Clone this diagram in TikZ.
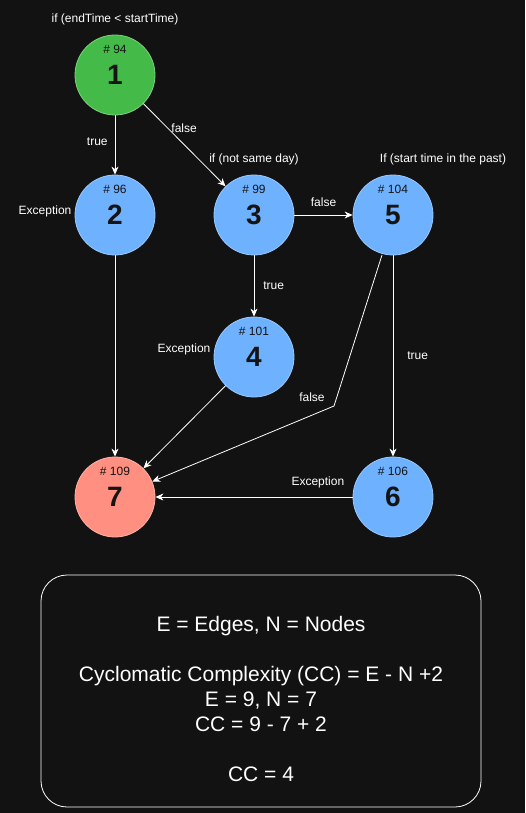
\documentclass[tikz,border=0pt]{standalone}
\usepackage{fontspec}
\setmainfont{Liberation Sans}
\usetikzlibrary{arrows.meta,calc,positioning}
\definecolor{bgdark}{HTML}{121212}
\definecolor{startgreen}{HTML}{44BB48}
\definecolor{stepblue}{HTML}{6EB1FF}
\definecolor{endred}{HTML}{FF8F80}
\definecolor{numtext}{HTML}{141414}
\tikzset{
    cfgnode/.style = {circle, minimum size=80pt, inner sep=0pt, fill=#1, draw=#1!70!white, line width=0.8pt,
                      text=numtext, font=\fontsize{28}{28}\selectfont\bfseries},
    lineno/.style = {font=\fontsize{12}{12}\selectfont, text=numtext, anchor=center, yshift=-15pt},
    edgelabel/.style = {font=\fontsize{12}{12}\selectfont, text=white, inner sep=3pt},
    condlabel/.style = {edgelabel, label distance=6pt},
    flow/.style = {draw=white, line width=0.8pt, -{Stealth[length=8pt,width=7pt,inset=2.5pt]}},
    infotext/.style = {font=\fontsize{21}{25}\selectfont, text=white, align=center}
}

\begin{document}
\begin{tikzpicture}[x=1pt,y=-1pt]
                %% page and background
                \fill[bgdark] (0,0) rectangle (525,813);
                \useasboundingbox (0,0) rectangle (525,813);

                %% control flow nodes
                \node[cfgnode=startgreen, label={[lineno]north:\# 94}, label={[condlabel]above:if (endTime < startTime)}] (n1) at (115,75) {\raisebox{-2pt}{1}};
                \node[cfgnode=stepblue, label={[lineno]north:\# 96}, label={[edgelabel, yshift=4pt]left:Exception}] (n2) at (115,215) {\raisebox{-2pt}{2}};
                \node[cfgnode=stepblue, label={[lineno]north:\# 99}, label={[condlabel]above:if (not same day)}] (n3) at (254,215) {\raisebox{-2pt}{3}};
                \node[cfgnode=stepblue, label={[lineno]north:\# 104}, label={[condlabel, xshift=50pt]above:If (start time in the past)}] (n5) at (393,215) {\raisebox{-2pt}{5}};
                \node[cfgnode=stepblue, label={[lineno]north:\# 101}, label={[edgelabel, yshift=8pt]left:Exception}] (n4) at (254,357) {\raisebox{-2pt}{4}};
                \node[cfgnode=endred, label={[lineno]north:\# 109}] (n7) at (115,497) {\raisebox{-2pt}{7}};
                \node[cfgnode=stepblue, label={[lineno]north:\# 106}] (n6) at (393,497) {\raisebox{-2pt}{6}};

                \coordinate (bend5) at (334,406);

                %% edges
                \draw[flow] (n1) -- node[edgelabel, left=4pt, pos=0.45] {true} (n2);
                \draw[flow] (n1) -- node[edgelabel, pos=0.3, right] {false} (n3);
                \draw[flow] (n3) -- node[edgelabel, above=5pt] {false} (n5);
                \draw[flow] (n3) -- node[edgelabel, right=6pt] {true} (n4);
                \draw[flow] (n5) -- node[edgelabel, right=11pt] {true} (n6);
                \draw[flow] (n2) -- (n7);
                \draw[flow] (n4) -- (n7);
                \draw[flow] ($(n5.center)+(-11,40)$) -- (bend5)
                    node[edgelabel, anchor=east, xshift=-6pt, yshift=9pt] {false} -- (n7);
                \draw[flow] (n6) -- node[edgelabel, pos=0, anchor=south east, xshift=-5pt, yshift=6pt] {Exception} (n7);

                %% formula box
                \draw[white, line width=0.8pt, rounded corners=26pt] (41,575) rectangle (481,807);
                \node[infotext] (info) at (261,699) {E = Edges, N = Nodes\\[25pt]
                    Cyclomatic Complexity (CC) = E - N +2\\
                    E = 9, N = 7\\
                    CC = 9 - 7 + 2\\[25pt]
                    CC = 4};

            \end{tikzpicture}
\end{document}
